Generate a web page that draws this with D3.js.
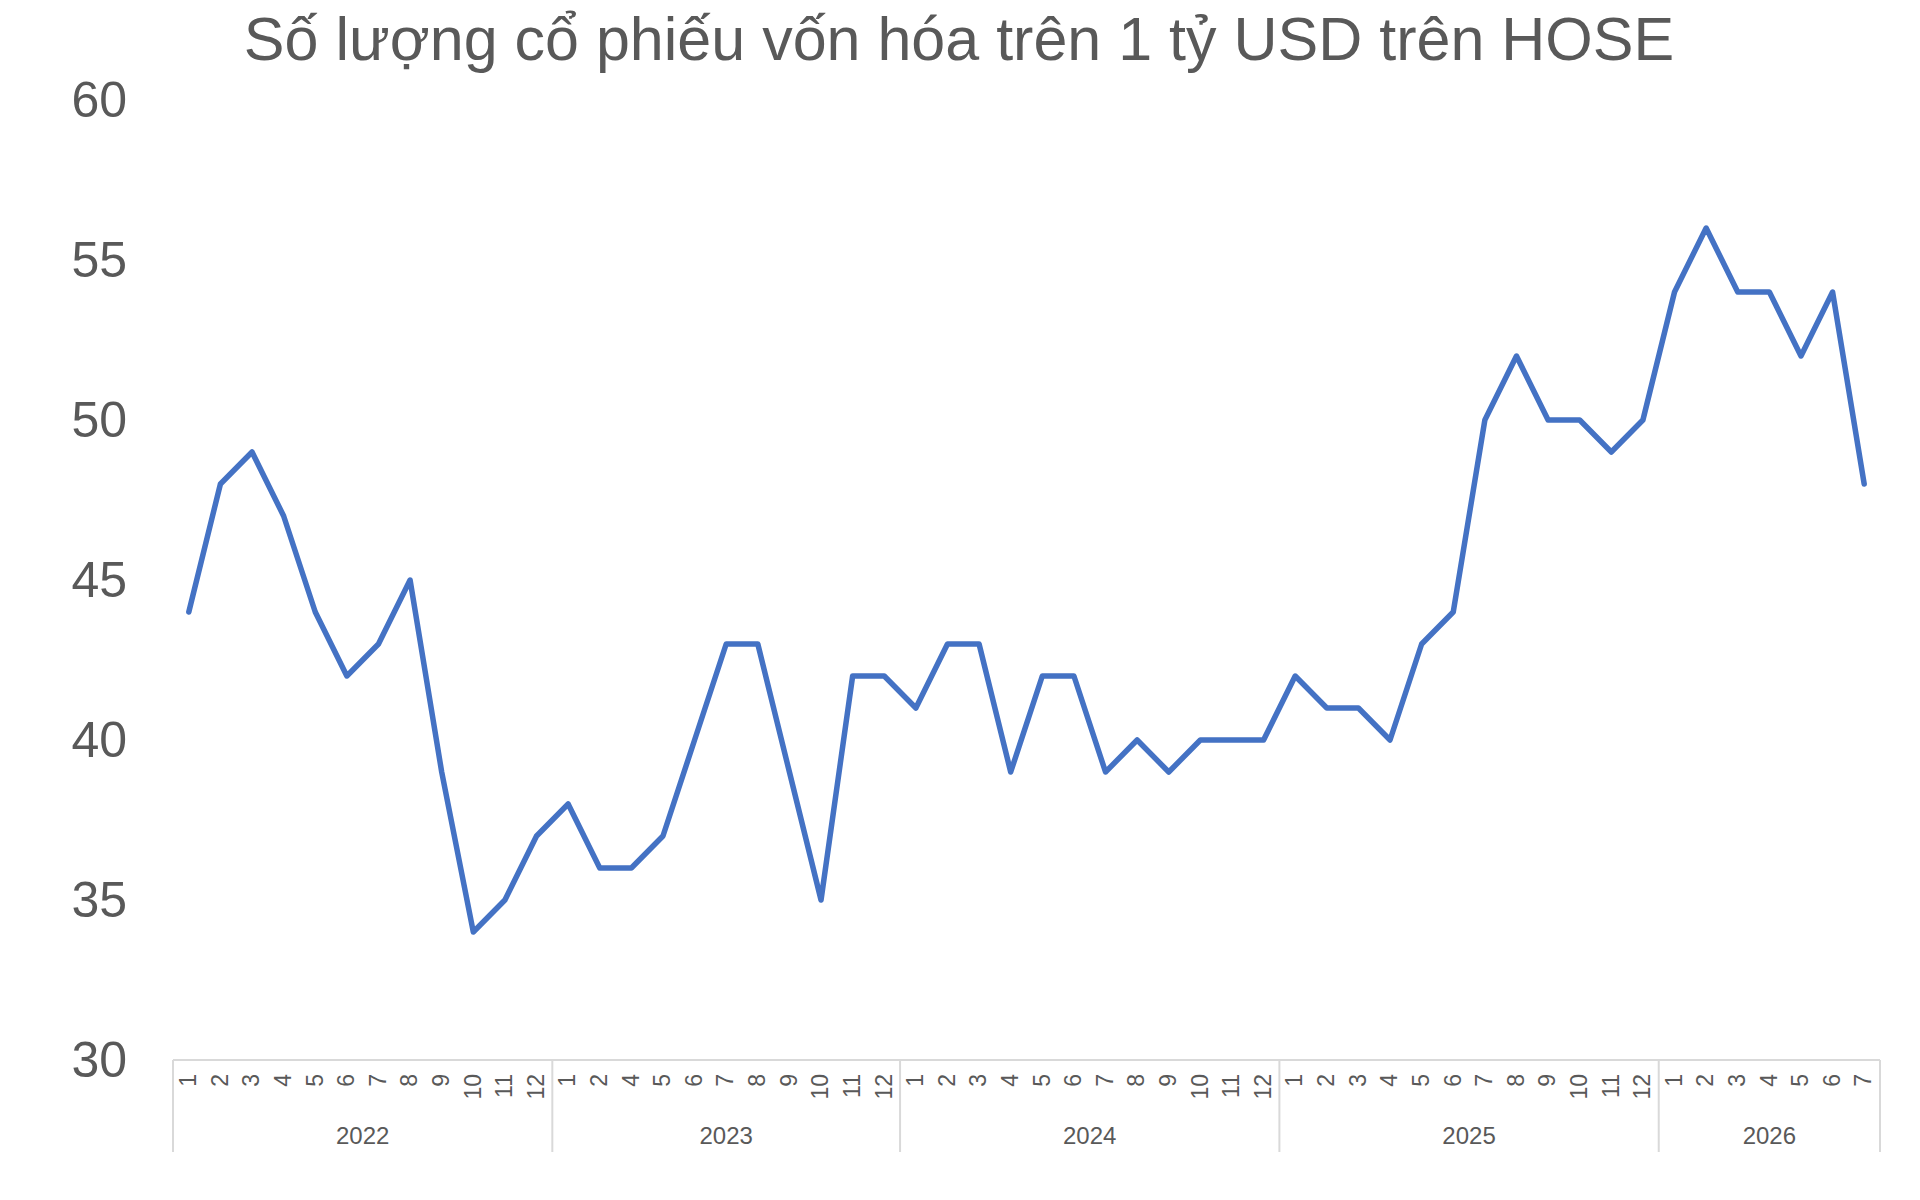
<!DOCTYPE html>
<html>
<head>
<meta charset="utf-8">
<script src="https://cdn.jsdelivr.net/npm/d3@7"></script>
<style>
  html, body { margin: 0; padding: 0; background: #ffffff; }
  svg { display: block; }
  text { font-family: "Liberation Sans", Arial, Helvetica, sans-serif; fill: #595959; }
</style>
</head>
<body>
<svg id="chart" width="1920" height="1200"></svg>
<script>
const titleText = "Số lượng cổ phiếu vốn hóa trên 1 tỷ USD trên HOSE";
const yearLabels = ["2022", "2023", "2024", "2025", "2026"];
const monthLabels = [
  ["1","2","3","4","5","6","7","8","9","10","11","12"],
  ["1","2","4","5","6","7","8","9","10","11","12"],
  ["1","2","3","4","5","6","7","8","9","10","11","12"],
  ["1","2","3","4","5","6","7","8","9","10","11","12"],
  ["1","2","3","4","5","6","7"]
];
const values = [
  44, 48, 49, 47, 44, 42, 43, 45, 39, 34, 35, 37,
  38, 36, 36, 37, 40, 43, 43, 39, 35, 42, 42,
  41, 43, 43, 39, 42, 42, 39, 40, 39, 40, 40, 40,
  42, 41, 41, 40, 43, 44, 50, 52, 50, 50, 49, 50,
  54, 56, 54, 54, 52, 54, 48
];
const yTicks = [30, 35, 40, 45, 50, 55, 60];

(function () {
  const cats = [];
  monthLabels.forEach((ms, gi) => ms.forEach(m => cats.push({ year: yearLabels[gi], group: gi, month: m })));
  cats.forEach((c, i) => c.value = values[i]);

  const svg = d3.select("#chart");
  const plotLeft = 173, plotRight = 1880, plotTop = 100, plotBottom = 1060;

  const x = d3.scaleBand().domain(d3.range(cats.length)).range([plotLeft, plotRight]).padding(0);
  const y = d3.scaleLinear().domain([30, 60]).range([plotBottom, plotTop]);

  svg.append("text")
    .attr("x", 959).attr("y", 60)
    .attr("text-anchor", "middle")
    .style("font-size", "61px")
    .text(titleText);

  const yAxis = svg.append("g")
    .attr("transform", `translate(${plotLeft},0)`)
    .call(d3.axisLeft(y).tickValues(yTicks).tickSize(0).tickPadding(46));
  yAxis.select(".domain").remove();
  yAxis.selectAll("text")
    .style("font-size", "50px")
    .style("font-family", "'Liberation Sans', Arial, sans-serif")
    .attr("fill", "#595959");

  const axisColor = "#d9d9d9";
  svg.append("line")
    .attr("x1", plotLeft).attr("x2", plotRight)
    .attr("y1", plotBottom).attr("y2", plotBottom)
    .attr("stroke", axisColor).attr("stroke-width", 2);

  const boundaries = [0];
  let acc = 0;
  monthLabels.forEach(ms => { acc += ms.length; boundaries.push(acc); });
  const bx = d => d < cats.length ? x(d) : plotRight;
  svg.selectAll("line.sep").data(boundaries).enter().append("line")
    .attr("class", "sep")
    .attr("x1", bx).attr("x2", bx)
    .attr("y1", plotBottom).attr("y2", 1152)
    .attr("stroke", axisColor).attr("stroke-width", 2);

  svg.selectAll("text.month").data(cats).enter().append("text")
    .attr("class", "month")
    .attr("transform", (d, i) => `translate(${x(i) + x.bandwidth() / 2 - 1},1074) rotate(-90)`)
    .attr("text-anchor", "end")
    .attr("dy", "0.36em")
    .style("font-size", "23px")
    .text(d => d.month);

  svg.selectAll("text.year").data(yearLabels).enter().append("text")
    .attr("class", "year")
    .attr("x", (d, i) => (bx(boundaries[i]) + bx(boundaries[i + 1])) / 2)
    .attr("y", 1144)
    .attr("text-anchor", "middle")
    .style("font-size", "24px")
    .text(d => d);

  const line = d3.line()
    .x((d, i) => x(i) + x.bandwidth() / 2)
    .y(d => y(d.value));
  svg.append("path")
    .datum(cats)
    .attr("d", line)
    .attr("fill", "none")
    .attr("stroke", "#4472C4")
    .attr("stroke-width", 5.5)
    .attr("stroke-linejoin", "round")
    .attr("stroke-linecap", "round");
})();
</script>
</body>
</html>
